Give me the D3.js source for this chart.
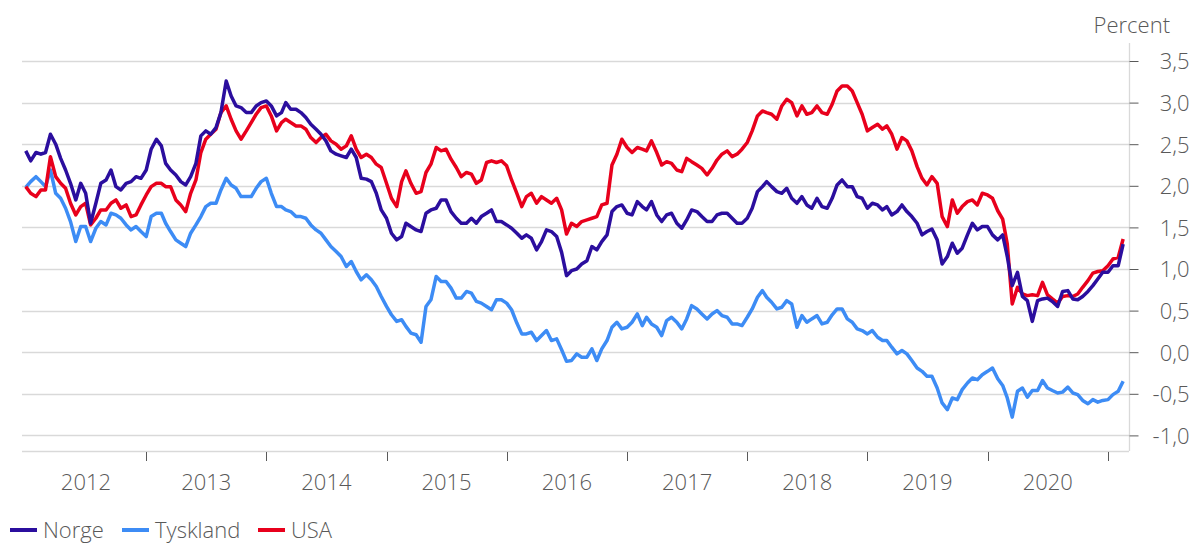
<!DOCTYPE html>
<html><head><meta charset="utf-8">
<script src="https://cdn.jsdelivr.net/npm/d3@7"></script>
<style>
html,body{margin:0;padding:0;background:#fff;}
svg{display:block;}
text{font-family:"Open Sans",sans-serif;font-weight:300;fill:#595959;}
</style></head><body>
<svg id="chart" width="1193" height="543"></svg>
<script>
// Half-monthly observations (1st and 16th of each month), starting Jan 2012
const startYear = 2012;
const norge = [
2.42,2.30,2.40,2.38,2.40,2.62,2.50,2.33,2.19,2.03,
1.83,2.03,1.91,1.55,1.79,2.03,2.07,2.19,1.99,1.95,
2.03,2.05,2.11,2.09,2.19,2.44,2.56,2.48,2.27,2.19,
2.13,2.05,2.01,2.11,2.27,2.60,2.66,2.62,2.70,2.88,
3.26,3.08,2.96,2.94,2.88,2.88,2.96,3.00,3.02,2.96,
2.84,2.88,3.00,2.92,2.92,2.88,2.82,2.74,2.68,2.62,
2.54,2.42,2.38,2.36,2.34,2.44,2.34,2.09,2.08,2.05,
1.91,1.71,1.61,1.43,1.35,1.39,1.55,1.51,1.47,1.45,
1.67,1.71,1.73,1.83,1.83,1.69,1.61,1.55,1.55,1.61,
1.55,1.63,1.67,1.71,1.57,1.57,1.53,1.49,1.43,1.37,
1.41,1.37,1.23,1.33,1.47,1.45,1.39,1.20,0.92,0.98,
1.00,1.06,1.10,1.27,1.23,1.33,1.41,1.69,1.75,1.77,
1.67,1.65,1.81,1.75,1.71,1.81,1.65,1.57,1.65,1.67,
1.55,1.49,1.59,1.71,1.69,1.63,1.57,1.57,1.65,1.67,
1.67,1.61,1.55,1.55,1.61,1.73,1.93,1.99,2.05,1.99,
1.93,1.91,1.97,1.85,1.79,1.87,1.77,1.73,1.85,1.75,
1.73,1.85,2.01,2.07,1.99,1.99,1.87,1.85,1.73,1.79,
1.77,1.71,1.75,1.65,1.69,1.77,1.69,1.63,1.55,1.41,
1.45,1.48,1.35,1.06,1.15,1.31,1.19,1.25,1.41,1.55,
1.47,1.51,1.51,1.41,1.35,1.41,1.15,0.80,0.96,0.67,
0.62,0.37,0.62,0.64,0.65,0.61,0.55,0.73,0.74,0.64,
0.63,0.67,0.73,0.80,0.88,0.96,0.96,1.04,1.04,1.30
];
const tyskland = [
1.98,2.05,2.11,2.05,1.99,2.19,1.91,1.85,1.73,1.57,
1.33,1.51,1.51,1.33,1.49,1.57,1.53,1.67,1.65,1.61,
1.53,1.47,1.51,1.45,1.39,1.63,1.67,1.67,1.55,1.45,
1.35,1.31,1.27,1.43,1.53,1.63,1.75,1.79,1.79,1.95,
2.09,2.01,1.97,1.87,1.87,1.87,1.97,2.05,2.09,1.91,
1.75,1.75,1.71,1.69,1.63,1.63,1.61,1.53,1.47,1.43,
1.35,1.27,1.21,1.15,1.03,1.09,0.97,0.87,0.93,0.87,
0.79,0.67,0.55,0.45,0.37,0.39,0.31,0.23,0.21,0.12,
0.55,0.63,0.91,0.85,0.85,0.77,0.65,0.65,0.73,0.71,
0.61,0.59,0.55,0.51,0.63,0.63,0.59,0.51,0.35,0.22,
0.22,0.24,0.14,0.20,0.26,0.14,0.16,0.03,-0.11,-0.10,
-0.02,-0.06,-0.06,0.04,-0.10,0.04,0.14,0.30,0.36,0.28,
0.30,0.36,0.46,0.32,0.42,0.34,0.30,0.20,0.38,0.42,
0.36,0.28,0.40,0.56,0.52,0.46,0.40,0.46,0.50,0.44,
0.42,0.34,0.34,0.32,0.42,0.52,0.66,0.74,0.66,0.60,
0.52,0.54,0.62,0.58,0.30,0.44,0.36,0.40,0.44,0.34,
0.36,0.45,0.52,0.52,0.40,0.36,0.28,0.26,0.22,0.26,
0.18,0.14,0.14,0.06,-0.02,0.02,-0.02,-0.10,-0.19,-0.23,
-0.29,-0.29,-0.43,-0.61,-0.69,-0.55,-0.57,-0.45,-0.37,-0.31,
-0.33,-0.27,-0.23,-0.19,-0.32,-0.40,-0.55,-0.78,-0.47,-0.43,
-0.54,-0.46,-0.46,-0.34,-0.43,-0.46,-0.49,-0.48,-0.42,-0.49,
-0.51,-0.58,-0.62,-0.57,-0.60,-0.58,-0.57,-0.51,-0.47,-0.35
];
const usa = [
1.99,1.91,1.87,1.95,1.95,2.35,2.11,2.03,1.97,1.79,
1.65,1.75,1.79,1.53,1.61,1.71,1.71,1.79,1.83,1.73,
1.77,1.63,1.65,1.77,1.89,1.99,2.03,2.03,1.99,1.99,
1.83,1.77,1.69,1.91,2.07,2.40,2.56,2.62,2.68,2.88,
2.96,2.80,2.66,2.56,2.66,2.76,2.86,2.94,2.96,2.84,
2.66,2.76,2.80,2.76,2.72,2.72,2.68,2.58,2.52,2.58,
2.62,2.54,2.50,2.44,2.48,2.60,2.44,2.34,2.38,2.34,
2.26,2.22,2.03,1.85,1.75,2.05,2.18,2.03,1.91,1.93,
2.16,2.26,2.46,2.42,2.44,2.32,2.22,2.11,2.16,2.14,
2.03,2.07,2.28,2.30,2.28,2.30,2.24,2.07,1.91,1.75,
1.87,1.91,1.79,1.87,1.83,1.79,1.85,1.71,1.42,1.55,
1.51,1.57,1.59,1.61,1.63,1.77,1.79,2.25,2.38,2.56,
2.46,2.40,2.46,2.44,2.42,2.54,2.40,2.25,2.29,2.27,
2.19,2.17,2.33,2.29,2.25,2.21,2.13,2.21,2.31,2.38,
2.42,2.35,2.38,2.44,2.52,2.66,2.84,2.90,2.88,2.86,
2.80,2.96,3.04,3.00,2.84,2.96,2.86,2.88,2.96,2.88,
2.86,2.98,3.14,3.20,3.20,3.14,3.00,2.86,2.66,2.70,
2.74,2.68,2.72,2.62,2.44,2.58,2.54,2.42,2.23,2.09,
2.01,2.11,2.03,1.63,1.51,1.83,1.67,1.75,1.81,1.83,
1.77,1.91,1.89,1.85,1.70,1.60,1.30,0.58,0.78,0.70,
0.68,0.69,0.68,0.84,0.69,0.64,0.59,0.67,0.68,0.67,
0.70,0.78,0.86,0.95,0.97,0.98,1.04,1.12,1.14,1.36
];
const seriesNames = ["Norge", "Tyskland", "USA"];
const seriesColors = ["#2b0e9e", "#3d8cf5", "#e8001c"];
const yTickValues = [-1, -0.5, 0, 0.5, 1, 1.5, 2, 2.5, 3, 3.5];
const yTickLabels = ["-1,0", "-0,5", "0,0", "0,5", "1,0", "1,5", "2,0", "2,5", "3,0", "3,5"];
const yearLabels = [2012, 2013, 2014, 2015, 2016, 2017, 2018, 2019, 2020];
const unitLabel = "Percent";

const dates = norge.map((_, i) => new Date(startYear, Math.floor(i / 2), i % 2 ? 16 : 1));

const svg = d3.select("#chart");
const plotLeft = 22, plotRight = 1129, plotTop = 43, plotBottom = 451;

const x = d3.scaleTime()
  .domain([new Date(2012, 0, 1), new Date(2021, 0, 1)])
  .range([25.75, 1108]);
const y = d3.scaleLinear().domain([-1, 3.5]).range([435.4, 61]);

// gridlines
svg.append("g").selectAll("line").data(yTickValues).join("line")
  .attr("x1", plotLeft).attr("x2", plotRight)
  .attr("y1", d => Math.round(y(d)) + 0.5).attr("y2", d => Math.round(y(d)) + 0.5)
  .attr("stroke", "#d9d9d9").attr("stroke-width", 1.3);

// bottom axis line
svg.append("line").attr("x1", plotLeft).attr("x2", plotRight)
  .attr("y1", plotBottom + 0.5).attr("y2", plotBottom + 0.5)
  .attr("stroke", "#d9d9d9").attr("stroke-width", 1.3);

// right axis line
svg.append("line").attr("x1", plotRight + 0.5).attr("x2", plotRight + 0.5)
  .attr("y1", plotTop).attr("y2", plotBottom)
  .attr("stroke", "#d9d9d9").attr("stroke-width", 1.3);

// y axis ticks + labels
const yAxis = d3.axisRight(y).tickValues(yTickValues)
  .tickFormat((d, i) => yTickLabels[i]).tickSize(9).tickSizeOuter(0);
const gy = svg.append("g").attr("transform", `translate(${plotRight + 0.5},0)`).call(yAxis);
gy.select(".domain").remove();
gy.selectAll(".tick line").attr("stroke", "#595959");
gy.selectAll(".tick text").attr("x", 60).attr("dy", "0.36em")
  .attr("text-anchor", "end").style("font-size", "22px")
  .style("font-family", '"Open Sans",sans-serif').style("font-weight", 300).attr("fill", "#595959");

// x axis ticks (year boundaries)
const yearBounds = yearLabels.slice(1).map(yv => new Date(yv, 0, 1)).concat([new Date(2021, 0, 1)]);
svg.append("g").selectAll("line").data(yearBounds).join("line")
  .attr("x1", d => Math.round(x(d)) + 0.5).attr("x2", d => Math.round(x(d)) + 0.5)
  .attr("y1", plotBottom + 1).attr("y2", plotBottom + 10)
  .attr("stroke", "#595959").attr("stroke-width", 1);

svg.append("g").selectAll("text").data(yearLabels).join("text")
  .attr("x", d => (x(new Date(d, 0, 1)) + x(new Date(d + 1, 0, 1))) / 2)
  .attr("y", 490).attr("text-anchor", "middle").style("font-size", "22px")
  .text(d => d);

// unit label
svg.append("text").attr("x", 1170).attr("y", 33).attr("text-anchor", "end")
  .style("font-size", "22px").text(unitLabel);

// lines
const seriesData = [norge, tyskland, usa];
const line = d3.line().x((d, i) => x(dates[i])).y(d => y(d)).curve(d3.curveLinear);
const drawOrder = [1, 2, 0];
drawOrder.forEach(k => {
  svg.append("path").datum(seriesData[k])
    .attr("d", line).attr("fill", "none")
    .attr("stroke", seriesColors[k]).attr("stroke-width", 3.5)
    .attr("stroke-linejoin", "round");
});

// legend
const legendX = [10, 122, 258];
const lg = svg.append("g");
seriesNames.forEach((name, k) => {
  lg.append("line").attr("x1", legendX[k]).attr("x2", legendX[k] + 27)
    .attr("y1", 530).attr("y2", 530)
    .attr("stroke", seriesColors[k]).attr("stroke-width", 4);
  lg.append("text").attr("x", legendX[k] + 33).attr("y", 538)
    .style("font-size", "22px").text(name);
});
</script>
</body></html>
